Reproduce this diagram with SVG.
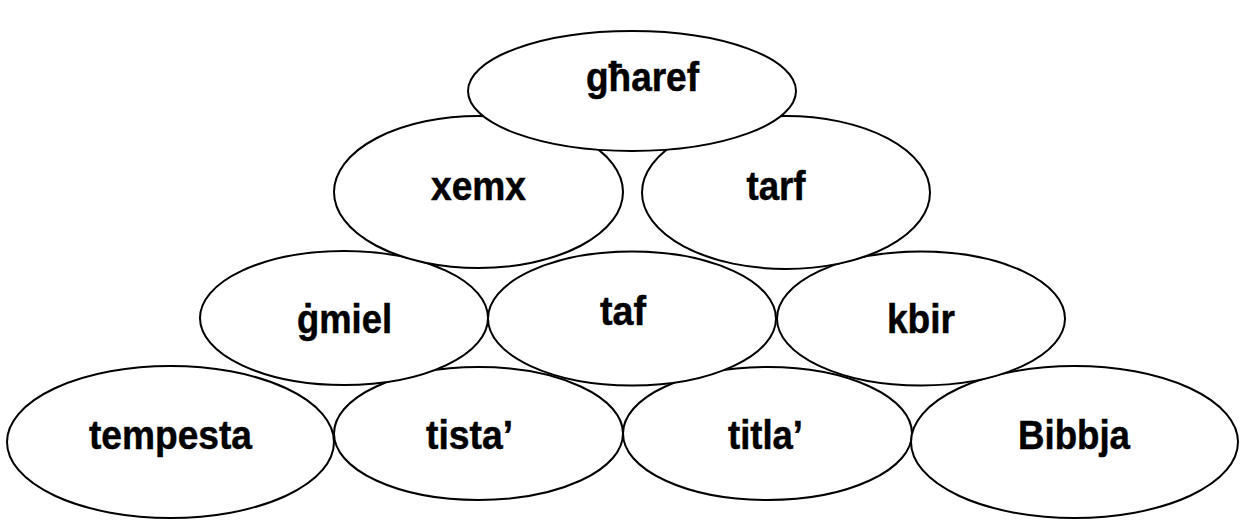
<svg xmlns="http://www.w3.org/2000/svg" width="1240" height="520" viewBox="0 0 1240 520">
  <style>
    .node ellipse { fill: #ffffff; stroke: #000000; stroke-width: 2; }
    .node text { font-family: "Liberation Sans", Arial, sans-serif; font-weight: bold; font-size: 40px; fill: #000000; stroke: #000000; stroke-width: 0.5; text-anchor: middle; }
  </style>
  <rect width="1240" height="520" fill="#ffffff"/>
  <g id="connectors"/>
  <g id="nodes">
    <g id="node-tempesta" class="node">
      <ellipse cx="170.5" cy="442" rx="163.5" ry="76"/>
      <text x="170.5" y="449" textLength="163" lengthAdjust="spacingAndGlyphs">tempesta</text>
    </g>
    <g id="node-tista" class="node">
      <ellipse cx="478.5" cy="433.5" rx="144.5" ry="66.5"/>
      <text x="469.5" y="449" textLength="87" lengthAdjust="spacingAndGlyphs">tista’</text>
    </g>
    <g id="node-titla" class="node">
      <ellipse cx="767.5" cy="433.5" rx="144.5" ry="66.5"/>
      <text x="765.5" y="449" textLength="75" lengthAdjust="spacingAndGlyphs">titla’</text>
    </g>
    <g id="node-bibbja" class="node">
      <ellipse cx="1074.5" cy="442" rx="163.5" ry="76"/>
      <text x="1074" y="449" textLength="112" lengthAdjust="spacingAndGlyphs">Bibbja</text>
    </g>
    <g id="node-gmiel" class="node">
      <ellipse cx="344" cy="318" rx="144" ry="67"/>
      <text x="344.5" y="333" textLength="95" lengthAdjust="spacingAndGlyphs">ġmiel</text>
    </g>
    <g id="node-taf" class="node">
      <ellipse cx="632" cy="318.5" rx="144" ry="67"/>
      <text x="623" y="325" textLength="46" lengthAdjust="spacingAndGlyphs">taf</text>
    </g>
    <g id="node-kbir" class="node">
      <ellipse cx="921" cy="318.5" rx="144" ry="67"/>
      <text x="921" y="333" textLength="68" lengthAdjust="spacingAndGlyphs">kbir</text>
    </g>
    <g id="node-xemx" class="node">
      <ellipse cx="478.5" cy="192" rx="144.5" ry="76"/>
      <text x="478.5" y="200" textLength="95" lengthAdjust="spacingAndGlyphs">xemx</text>
    </g>
    <g id="node-tarf" class="node">
      <ellipse cx="786" cy="192.5" rx="144" ry="76.5"/>
      <text x="776" y="200" textLength="59" lengthAdjust="spacingAndGlyphs">tarf</text>
    </g>
    <g id="node-gharef" class="node">
      <ellipse cx="632" cy="91" rx="164" ry="60"/>
      <text x="642.5" y="91" textLength="113" lengthAdjust="spacingAndGlyphs">għaref</text>
    </g>
  </g>
</svg>
